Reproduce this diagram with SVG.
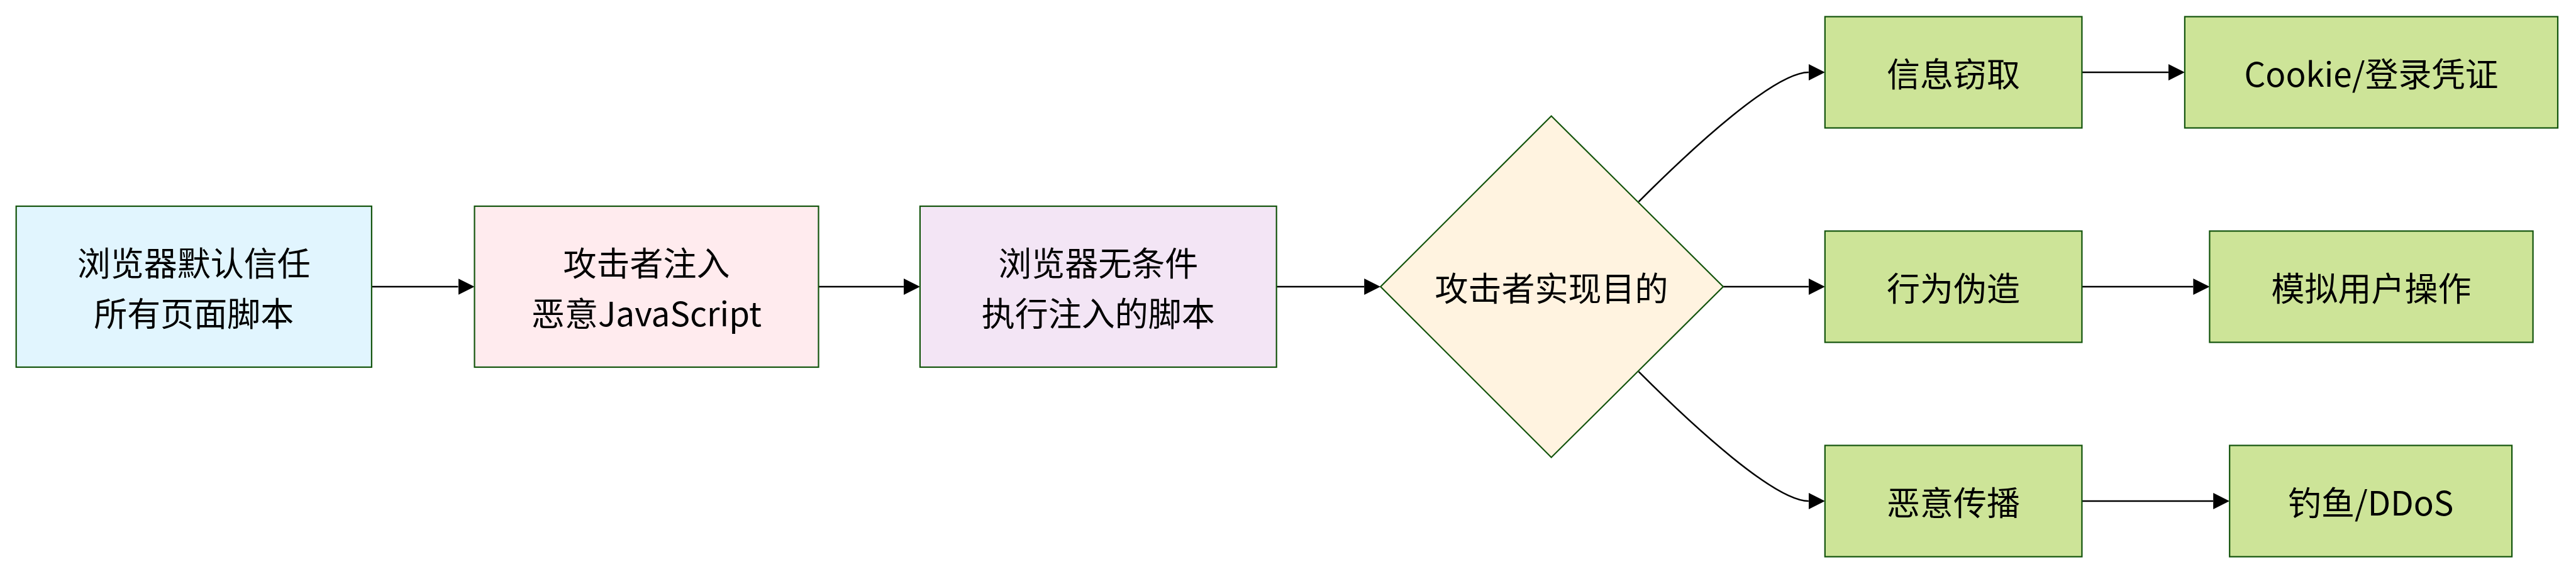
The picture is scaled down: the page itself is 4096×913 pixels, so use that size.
<svg xmlns="http://www.w3.org/2000/svg" width="4096" height="913" viewBox="0 0 4096 913">
  <style>
    .node { stroke: #13540c; stroke-width: 2.2; }
    .g { fill: #cde498; }
    .lbl { font-family: "Noto Sans CJK SC", "Noto Sans", sans-serif; font-size: 53px; fill: #000000; text-anchor: middle; dominant-baseline: central; }
    .edge { fill: none; stroke: #000000; stroke-width: 2.5; }
  </style>
  <defs>
    <marker id="arrow" viewBox="0 0 10 10" refX="0" refY="5" markerWidth="26" markerHeight="26" markerUnits="userSpaceOnUse" orient="auto">
      <path d="M0,0 L10,5 L0,10 z" fill="#000000"/>
    </marker>
  </defs>
  <rect width="4096" height="913" fill="#ffffff"/>

  <g id="connectors">
    <path class="edge" marker-end="url(#arrow)" d="M590.9,456 L728.5,456"/>
    <path class="edge" marker-end="url(#arrow)" d="M1301.5,456 L1436.9,456"/>
    <path class="edge" marker-end="url(#arrow)" d="M2029.7,456 L2169.2,456"/>
    <path class="edge" marker-end="url(#arrow)" d="M2605.6,320.8 C2695.2,231.2 2822.4,115 2875.8,115"/>
    <path class="edge" marker-end="url(#arrow)" d="M2740,456 L2875.8,456"/>
    <path class="edge" marker-end="url(#arrow)" d="M2605.6,591.2 C2695.2,680.8 2822.4,797 2875.8,797"/>
    <path class="edge" marker-end="url(#arrow)" d="M3310.4,115 L3447.9,115"/>
    <path class="edge" marker-end="url(#arrow)" d="M3310.4,456 L3487.4,456"/>
    <path class="edge" marker-end="url(#arrow)" d="M3310.4,797 L3519.2,797"/>
  </g>

  <g id="n1">
    <rect class="node" x="25.7" y="328" width="565.2" height="256" fill="#e1f5fe"/>
    <text class="lbl" x="308.3" y="415.7">浏览器默认信任</text>
    <text class="lbl" x="308.3" y="496.3">所有页面脚本</text>
  </g>
  <g id="n2">
    <rect class="node" x="754.5" y="328" width="547" height="256" fill="#ffebee"/>
    <text class="lbl" x="1028" y="415.7">攻击者注入</text>
    <text class="lbl" x="1028" y="496.3">恶意JavaScript</text>
  </g>
  <g id="n3">
    <rect class="node" x="1462.9" y="328" width="566.8" height="256" fill="#f3e5f5"/>
    <text class="lbl" x="1746.3" y="415.7">浏览器无条件</text>
    <text class="lbl" x="1746.3" y="496.3">执行注入的脚本</text>
  </g>
  <g id="n4">
    <polygon class="node" points="2466.7,184.5 2740,456 2466.7,727.5 2195.2,456" fill="#fff3e0"/>
    <text class="lbl" x="2467" y="456">攻击者实现目的</text>
  </g>
  <g id="n5">
    <rect class="node g" x="2901.8" y="26.5" width="408.6" height="177"/>
    <text class="lbl" x="3106.1" y="115">信息窃取</text>
  </g>
  <g id="n6">
    <rect class="node g" x="2901.8" y="367.5" width="408.6" height="177"/>
    <text class="lbl" x="3106.1" y="456">行为伪造</text>
  </g>
  <g id="n7">
    <rect class="node g" x="2901.8" y="708.5" width="408.6" height="177"/>
    <text class="lbl" x="3106.1" y="797">恶意传播</text>
  </g>
  <g id="n8">
    <rect class="node g" x="3473.9" y="26.5" width="593.1" height="177"/>
    <text class="lbl" x="3770.5" y="115">Cookie/登录凭证</text>
  </g>
  <g id="n9">
    <rect class="node g" x="3513.4" y="367.5" width="514.2" height="177"/>
    <text class="lbl" x="3770.5" y="456">模拟用户操作</text>
  </g>
  <g id="n10">
    <rect class="node g" x="3545.2" y="708.5" width="448.9" height="177"/>
    <text class="lbl" x="3769.7" y="797">钓鱼/DDoS</text>
  </g>
</svg>
